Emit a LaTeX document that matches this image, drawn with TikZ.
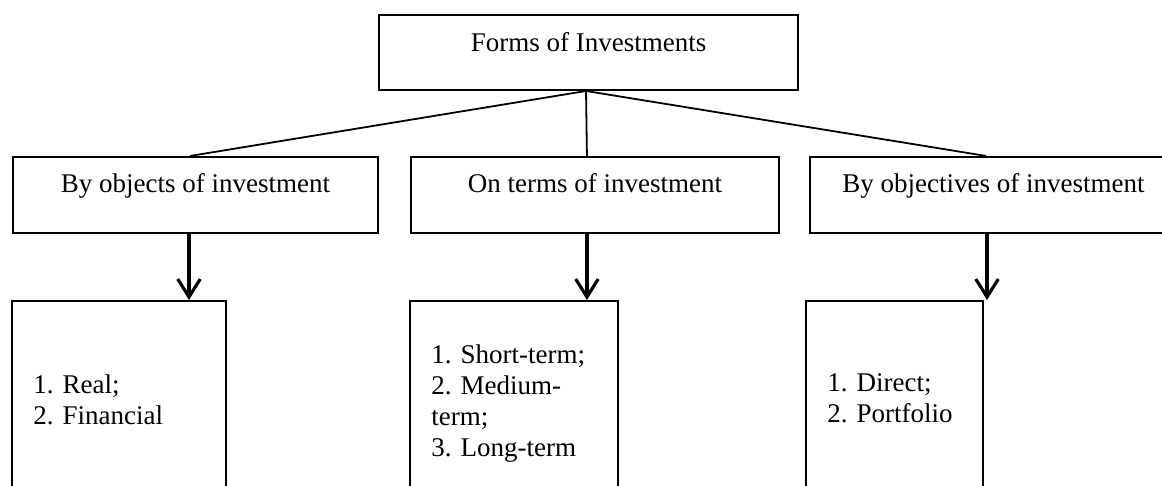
\documentclass[tikz,border=0pt]{standalone}
\usepackage{fontspec}
\setmainfont{Liberation Serif}
\usepackage{tikz}
\usetikzlibrary{positioning,arrows.meta,calc}
\frenchspacing

\begin{document}
\begin{tikzpicture}[
    x=0.4444pt, y=-0.4444pt,
    headbox/.style={rectangle, draw, line width=0.9pt, inner sep=0pt, text height=16.4pt, text depth=16.9pt, font=\fontsize{12}{13.8}\selectfont},
    catbox/.style={headbox, text height=16pt, text depth=17.8pt},
    listbox/.style={rectangle, draw, line width=0.9pt, anchor=north, align=left, inner xsep=9.5pt, inner ysep=0pt, font=\fontsize{12}{13.8}\selectfont},
    link/.style={line width=0.8pt},
    arrowline/.style={->, line width=1.4pt},
    >={Straight Barb[length=8pt,width=10pt]}
]
\useasboundingbox (0,0) rectangle (1162,486);
\clip (0,0) rectangle (1162,486);

% top node
\node[headbox, minimum width=186.2pt] (forms) at (588.5,52.5) {Forms of Investments};

% classification
\node[catbox, minimum width=162.2pt] (objects) at (195.5,195) {By objects of investment};
\node[catbox, minimum width=163.5pt, right=13.8pt of objects] (terms) {On terms of investment};
\node[catbox, minimum width=163.1pt, right=12.9pt of terms] (objectives) {By objectives of investment};

% kinds
\node[listbox, text width=76.1pt, minimum height=87.5pt] (real) at (119,300) {1. Real;\\2. Financial};
\node[listbox, text width=73.4pt, minimum height=91.5pt] (short) at (514,300) {1. Short-term;\\2. Medium-\\term;\\3. Long-term};
\node[listbox, text width=59.7pt, minimum height=86.6pt] (direct) at (894.5,300) {1. Direct;\\2. Portfolio};

% branches
\draw[link] ([xshift=-1.1pt]forms.south) -- ([xshift=-2.4pt]objects.north);
\draw[link] ([xshift=-1.1pt]forms.south) -- ([xshift=-3.6pt]terms.north);
\draw[link] ([xshift=-1.1pt]forms.south) -- ([xshift=-3.3pt]objectives.north);

% arrows
\draw[arrowline] ([xshift=-2.9pt]objects.south) -- ([xshift=-2.9pt]objects.south |- real.north);
\draw[arrowline] ([xshift=-3.6pt]terms.south) -- ([xshift=-3.6pt]terms.south |- short.north);
\draw[arrowline] ([xshift=-2.9pt]objectives.south) -- ([xshift=-2.9pt]objectives.south |- direct.north);

\end{tikzpicture}
\end{document}
